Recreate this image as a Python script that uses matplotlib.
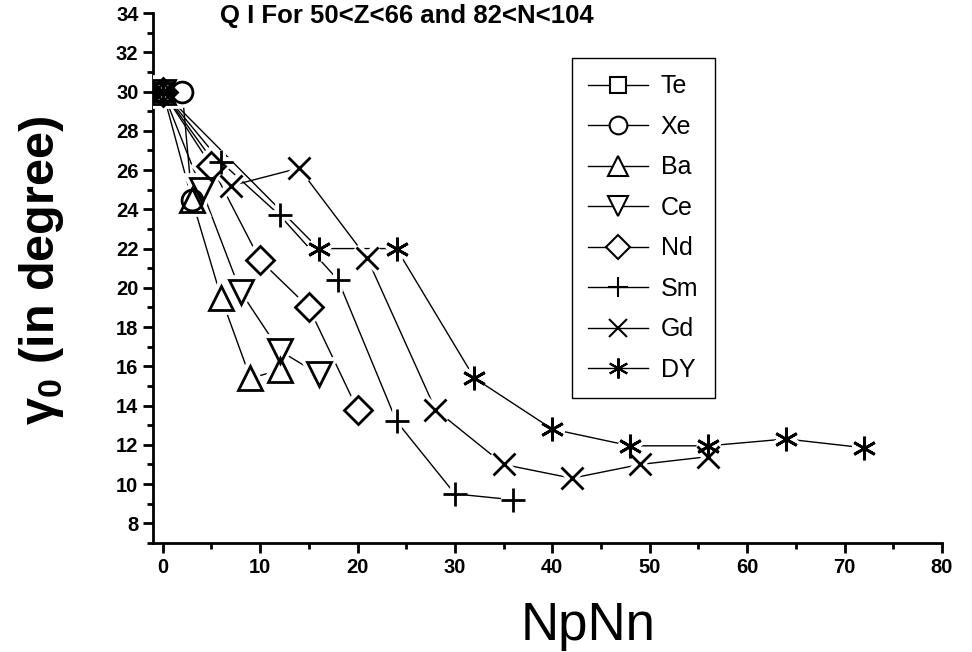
import matplotlib.pyplot as plt
from matplotlib.lines import Line2D
from matplotlib.ticker import MultipleLocator

plt.rcParams['font.family'] = ['Liberation Sans', 'DejaVu Sans']
plt.rcParams['mathtext.fontset'] = 'custom'
plt.rcParams['mathtext.rm'] = 'Liberation Sans:bold'
plt.rcParams['mathtext.bf'] = 'Liberation Sans:bold'

# values (NpNn, gamma0 in degree)
names = ['Te', 'Xe', 'Ba', 'Ce', 'Nd', 'Sm', 'Gd', 'DY']
te_x = [0]
te_y = [30]
xe_x = [0, 2, 3]
xe_y = [30, 30, 24.5]
ba_x = [0, 3, 6, 9, 12]
ba_y = [30, 24.5, 19.5, 15.4, 15.8]
ce_x = [0, 4, 8, 12, 16]
ce_y = [30, 25.0, 19.8, 16.8, 15.6]
nd_x = [0, 5, 10, 15, 20]
nd_y = [30, 26.2, 21.4, 19.0, 13.8]
sm_x = [0, 6, 12, 18, 24, 30, 36]
sm_y = [30, 26.4, 23.7, 20.4, 13.2, 9.5, 9.2]
gd_x = [0, 7, 14, 21, 28, 35, 42, 49, 56]
gd_y = [30, 25.2, 26.1, 21.5, 13.8, 11.0, 10.3, 11.0, 11.4]
dy_x = [0, 16, 24, 32, 40, 48, 56, 64, 72]
dy_y = [30, 22.0, 22.0, 15.4, 12.8, 11.95, 11.95, 12.3, 11.85]

xs = [te_x, xe_x, ba_x, ce_x, nd_x, sm_x, gd_x, dy_x]
ys = [te_y, xe_y, ba_y, ce_y, nd_y, sm_y, gd_y, dy_y]
markers = ['s', 'o', '^', 'v', 'D', '+', 'x', (6, 2, 0)]
sizes = [13, 15, 17, 17, 14, 17, 16, 17]

fig = plt.figure(figsize=(9.72, 6.52), dpi=100)
ax = fig.add_axes([0.1574, 0.1672, 0.8117, 0.8128])

# lines first, then white halos to cut gaps, then the black markers
for x, y in zip(xs, ys):
    ax.plot(x, y, '-', color='k', lw=1, zorder=2)
for x, y, m, s in zip(xs, ys, markers, sizes):
    ax.plot(x, y, ls='none', marker=m, ms=s, mfc='white', mec='white', mew=7, zorder=3)
for x, y, m, s in zip(xs, ys, markers, sizes):
    ax.plot(x, y, ls='none', marker=m, ms=s, mfc='none', mec='k', mew=2, zorder=4)

ax.set_xlim(-1, 80)
ax.set_ylim(7, 34)
ax.xaxis.set_major_locator(MultipleLocator(10))
ax.xaxis.set_minor_locator(MultipleLocator(5))
ax.yaxis.set_major_locator(MultipleLocator(2))
ax.yaxis.set_minor_locator(MultipleLocator(1))
ax.set_yticks(range(8, 35, 2))
ax.tick_params(which='major', direction='out', length=7, width=2, labelsize=14.5)
ax.tick_params(which='minor', direction='out', length=4, width=2)
for lbl in ax.get_xticklabels() + ax.get_yticklabels():
    lbl.set_fontweight('bold')
for side in ['top', 'right']:
    ax.spines[side].set_visible(False)
for side in ['left', 'bottom']:
    ax.spines[side].set_linewidth(2)

handles = [Line2D([], [], color='k', lw=1, marker=m, ms=s * 0.85, mfc='white', mec='k', mew=1.5)
           for m, s in zip(markers, sizes)]
fig.legend(handles, names, loc='upper left', bbox_to_anchor=(0.5885, 0.911),
           frameon=True, fancybox=False, edgecolor='k', framealpha=1,
           fontsize=18, handlelength=2.4, handletextpad=0.5, labelspacing=0.66,
           borderpad=0.65, borderaxespad=0)

fig.text(407 / 972, 1 - 16 / 652, 'Q I For 50<Z<66 and 82<N<104',
         ha='center', va='center', fontsize=18.5, fontweight='bold')
fig.text(588 / 972, 1 - 626 / 652, 'NpNn', ha='center', va='center', fontsize=38)
fig.text(42 / 972, 1 - 270 / 652, r'γ$_{0}$ (in degree)', rotation=90,
         ha='center', va='center', fontsize=35, fontweight='bold')

fig.savefig('out.png', dpi=100)
